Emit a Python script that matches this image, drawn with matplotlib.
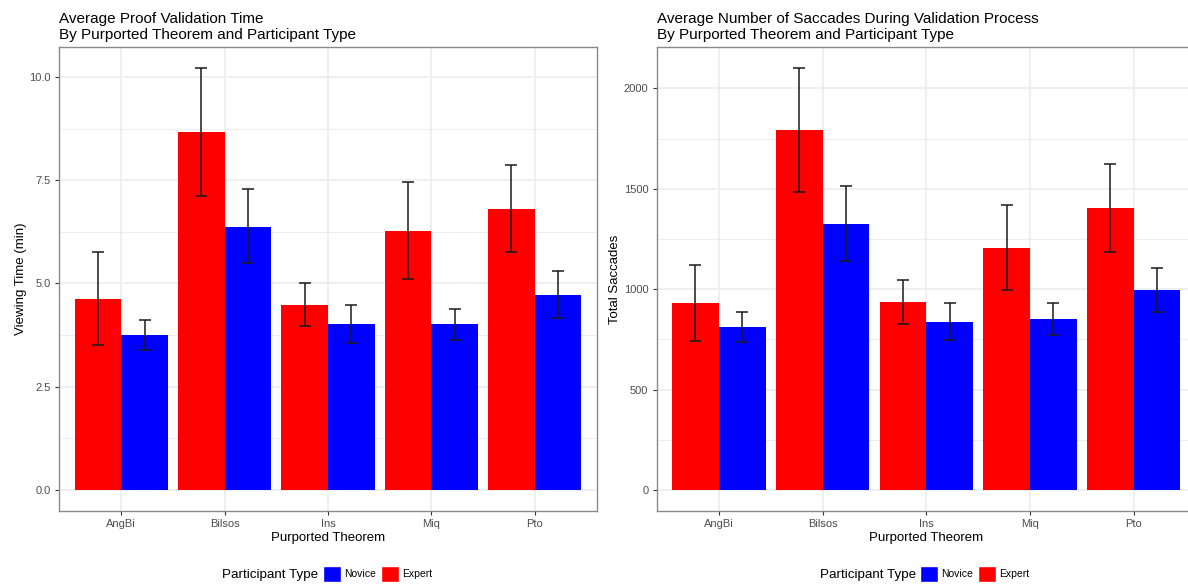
import matplotlib
matplotlib.use("Agg")
import matplotlib.pyplot as plt
import matplotlib.patches as patches
import numpy as np

plt.rcParams['font.family'] = ['Liberation Sans', 'DejaVu Sans']

theorems = ['AngBi', 'Bilsos', 'Ins', 'Miq', 'Pto']

# viewing time (min)
time_expert = [4.62, 8.67, 4.49, 6.27, 6.80]
time_expert_lo = [3.51, 7.13, 3.97, 5.10, 5.76]
time_expert_hi = [5.76, 10.21, 5.02, 7.46, 7.86]
time_novice = [3.75, 6.38, 4.02, 4.01, 4.73]
time_novice_lo = [3.39, 5.50, 3.57, 3.62, 4.17]
time_novice_hi = [4.11, 7.28, 4.47, 4.39, 5.31]

# total saccades
sac_expert = [932, 1791, 935, 1206, 1403]
sac_expert_lo = [743, 1483, 827, 995, 1184]
sac_expert_hi = [1121, 2100, 1048, 1420, 1625]
sac_novice = [812, 1327, 839, 849, 997]
sac_novice_lo = [738, 1141, 748, 773, 886]
sac_novice_hi = [887, 1512, 929, 929, 1106]

RED = '#FF0000'
BLUE = '#0000FF'
GRID = '#EBEBEB'
TXT = '#4D4D4D'

W, H = 1188, 586
fig = plt.figure(figsize=(W / 100, H / 100), dpi=100)


def px_axes(x0, y0, x1, y1):
    # pixel box -> figure fraction
    return [x0 / W, 1 - y1 / H, (x1 - x0) / W, (y1 - y0) / H]


def draw_panel(ax, expert, e_lo, e_hi, novice, n_lo, n_hi, ylim, yticks, yfmt, minors, title, ylabel):
    x = np.arange(len(theorems))
    bw = 0.45
    ax.bar(x - bw / 2, expert, width=bw, color=RED, zorder=2, linewidth=0)
    ax.bar(x + bw / 2, novice, width=bw, color=BLUE, zorder=2, linewidth=0)
    for xs, lo, hi in [(x - bw / 2, e_lo, e_hi), (x + bw / 2, n_lo, n_hi)]:
        lo = np.array(lo)
        hi = np.array(hi)
        mid = (lo + hi) / 2
        ax.errorbar(xs, mid, yerr=(hi - lo) / 2, fmt='none', ecolor='#1a1a1a',
                    elinewidth=1.1, capsize=4.4, capthick=1.1, zorder=3)
    ax.set_xlim(-0.6, len(theorems) - 0.4)
    ax.set_ylim(*ylim)
    ax.set_xticks(x)
    ax.set_xticklabels(theorems)
    ax.set_yticks(yticks)
    ax.set_yticklabels([yfmt.format(v) for v in yticks])
    for m in minors:
        ax.axhline(m, color=GRID, lw=0.6, zorder=0)
    for v in yticks:
        ax.axhline(v, color=GRID, lw=1.1, zorder=0)
    for v in x:
        ax.axvline(v, color=GRID, lw=1.1, zorder=0)
    for s in ax.spines.values():
        s.set_color('#8a8a8a')
        s.set_linewidth(1.0)
    ax.tick_params(axis='both', colors='#333333', labelcolor=TXT, labelsize=8,
                   length=3, width=0.8, pad=3)
    ax.set_xlabel('Purported Theorem', fontsize=9.5, color='black', labelpad=2)
    ax.set_ylabel(ylabel, fontsize=9.5, color='black', labelpad=2)
    ax.set_title(title, loc='left', fontsize=11, color='black', pad=6, linespacing=1.15)


ax1 = fig.add_axes(px_axes(59.3, 47.3, 596.7, 511))
draw_panel(ax1, time_expert, time_expert_lo, time_expert_hi,
           time_novice, time_novice_lo, time_novice_hi,
           (-0.51, 10.72), [0.0, 2.5, 5.0, 7.5, 10.0], '{:.1f}',
           [1.25, 3.75, 6.25, 8.75],
           'Average Proof Validation Time\nBy Purported Theorem and Participant Type',
           'Viewing Time (min)')

ax2 = fig.add_axes(px_axes(656.6, 47.3, 1196, 511))
draw_panel(ax2, sac_expert, sac_expert_lo, sac_expert_hi,
           sac_novice, sac_novice_lo, sac_novice_hi,
           (-105, 2205), [0, 500, 1000, 1500, 2000], '{:d}',
           [250, 750, 1250, 1750],
           'Average Number of Saccades During Validation Process\nBy Purported Theorem and Participant Type',
           'Total Saccades')

# legends (title left of keys, like ggplot bottom legend)
handles = [patches.Patch(facecolor=BLUE, edgecolor='white'),
           patches.Patch(facecolor=RED, edgecolor='white')]
for tx, lx in [(222, 323), (820, 920)]:
    fig.text(tx / W, 1 - 575 / H, 'Participant Type', fontsize=9.6,
             va='center', ha='left')
    fig.legend(handles, ['Novice', 'Expert'], loc='center left',
               bbox_to_anchor=(lx / W, 1 - 574 / H), ncol=2, frameon=False,
               fontsize=7.5, handlelength=1.7, handleheight=2.0,
               handletextpad=0.35, columnspacing=0.45, borderpad=0,
               borderaxespad=0)

fig.savefig('out.png', dpi=100)
